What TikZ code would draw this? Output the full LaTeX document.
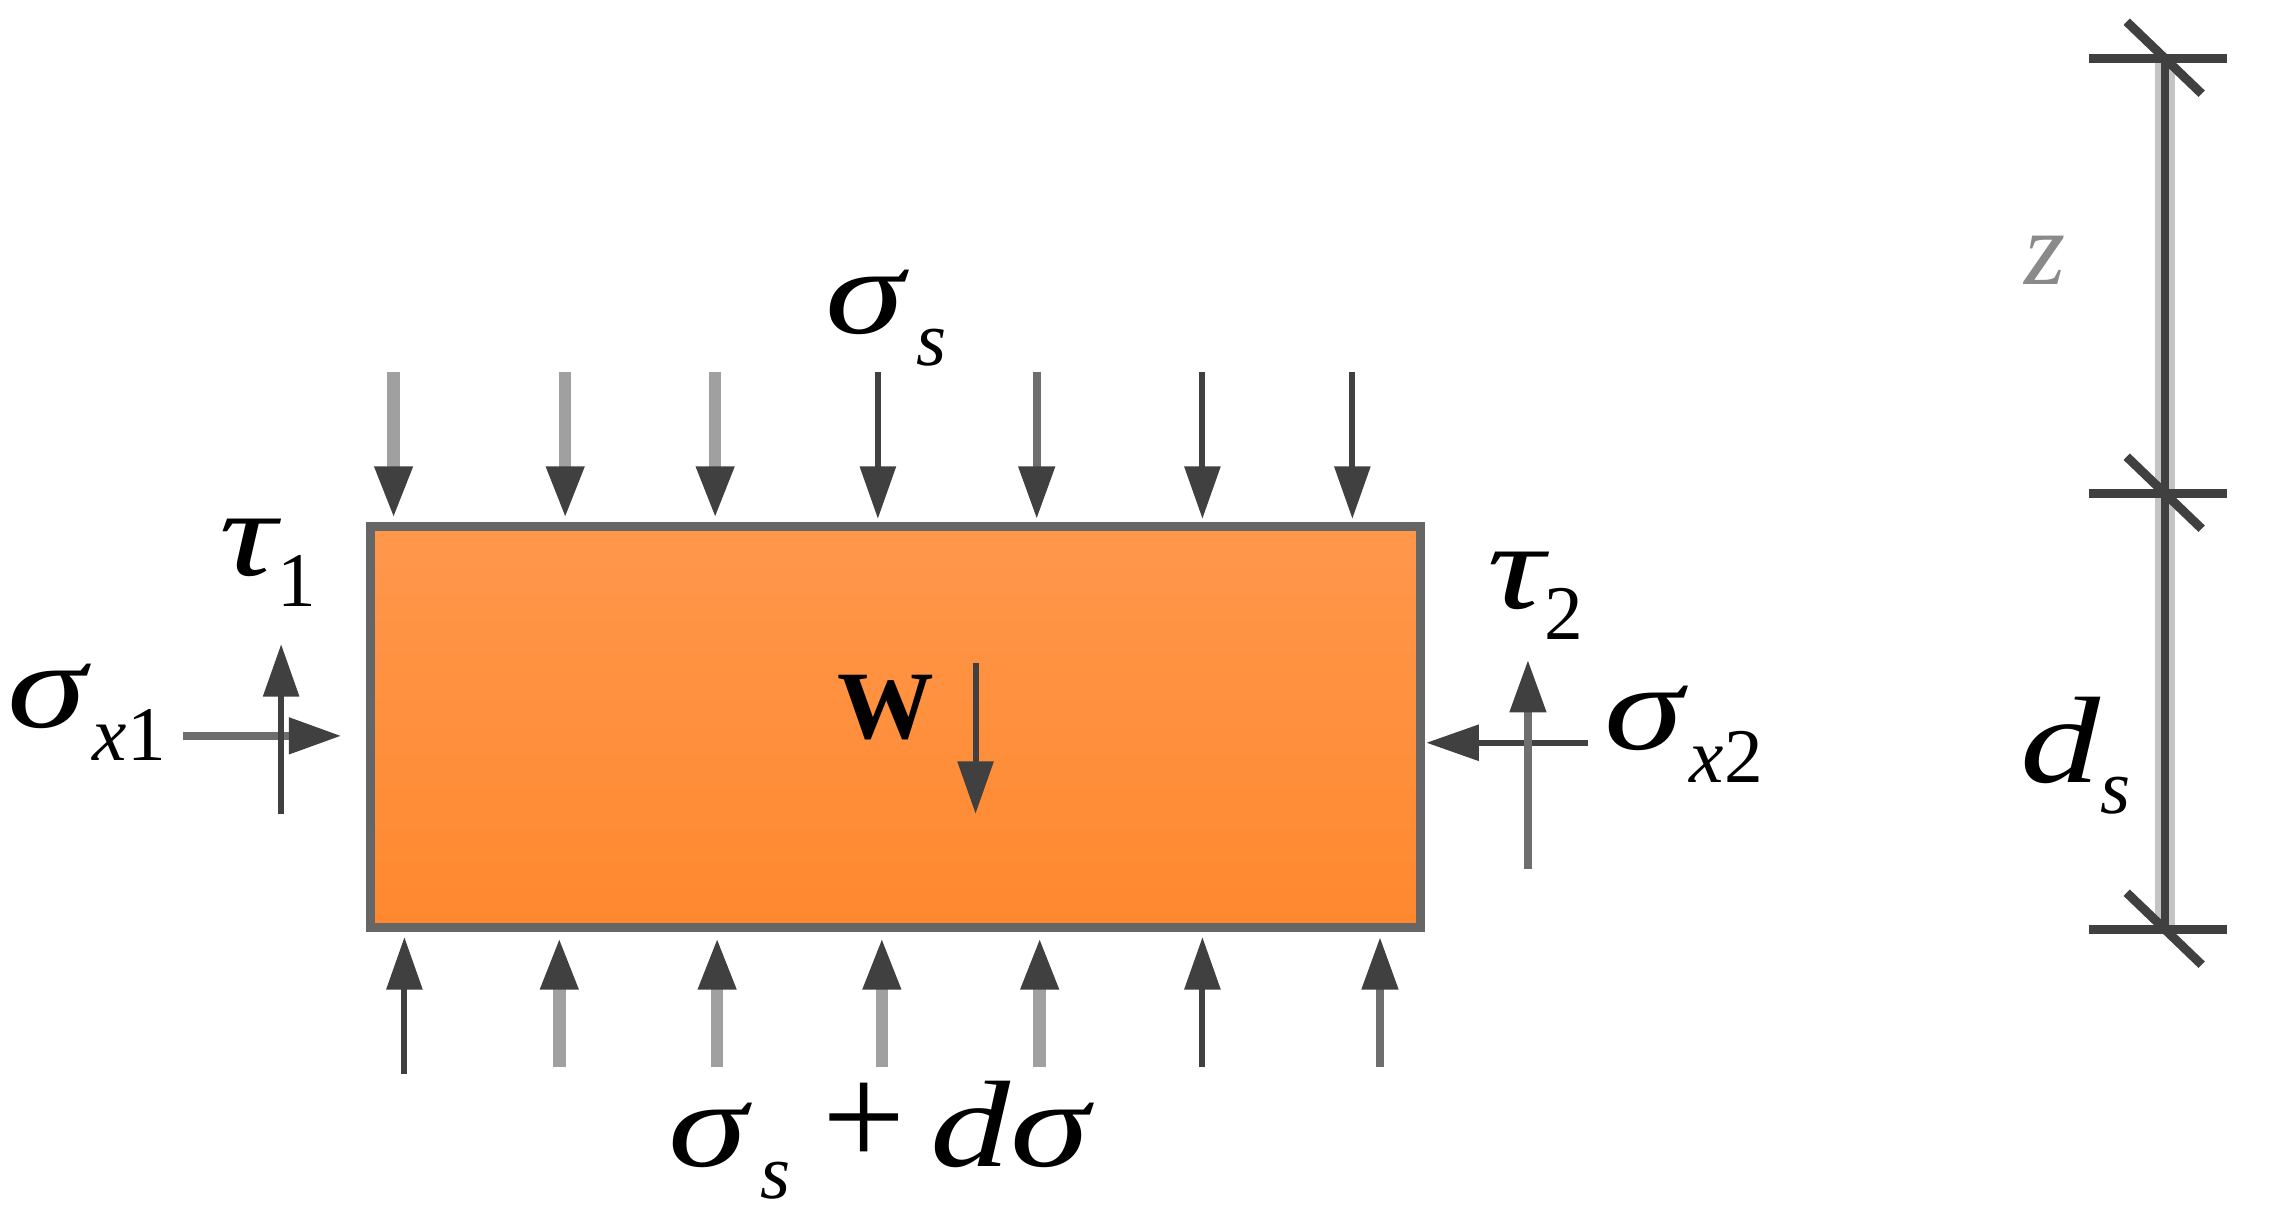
\documentclass[tikz,border=0pt]{standalone}
\usepackage{fontspec}
\usepackage{graphicx}
\setmainfont{Liberation Serif}
\usetikzlibrary{arrows.meta}
\newcommand{\bigsz}{\fontsize{70}{76}\selectfont}
\newcommand{\subsz}{\fontsize{44}{48}\selectfont}
\newcommand{\wide}[1]{\scalebox{1.3}[1]{\bigsz\itshape #1}}
\newcommand{\lbl}[4]{\wide{#1}\hspace{#2}\raisebox{#3}{\subsz #4}}
\definecolor{arrowdark}{HTML}{404040}
\definecolor{arrowmid}{HTML}{6E6E6E}
\definecolor{arrowsoft}{HTML}{A0A0A0}
\definecolor{halogray}{HTML}{C4C4C4}
\definecolor{boxedge}{HTML}{666666}
\definecolor{blocktop}{HTML}{FF974C}
\definecolor{blockbot}{HTML}{FF882E}
\definecolor{zgray}{HTML}{8A8A8A}
\tikzset{
  x=0.01973cm,y=-0.01973cm,
  txt/.style={anchor=base west,inner sep=0pt,outer sep=0pt,text=black},
  darkarrow/.style={draw=arrowdark,line width=0.12cm,-{Triangle[length=1.05cm,width=0.7cm,color=arrowdark]}},
  midarrow/.style={draw=arrowmid,line width=0.16cm,-{Triangle[length=1.05cm,width=0.7cm,color=arrowdark]}},
  softarrow/.style={draw=arrowsoft,line width=0.25cm,-{Triangle[length=1.05cm,width=0.7cm,color=arrowdark]}},
  dimhalo/.style={draw=halogray,line width=0.4cm},
  dimbar/.style={draw=arrowdark,line width=0.15cm},
  dimtick/.style={draw=arrowdark,line width=0.18cm},
  blockbox/.style={draw=boxedge,line width=0.18cm,top color=blocktop,bottom color=blockbot,minimum width=21cm,minimum height=8.02cm,inner sep=0pt}
}
\begin{document}
\begin{tikzpicture}
\useasboundingbox (0,0) rectangle (2301.3,1244.9);
\node[blockbox] (block) at (908,737) {};
% top arrows
\foreach \n/\xx/\st in {a/399/softarrow,b/573/softarrow,c/725/softarrow,d/890/darkarrow,e/1051/midarrow,f/1219/darkarrow,g/1371/darkarrow}{
  \coordinate (t\n s) at (\xx,377);
  \coordinate (t\n e) at (\xx,526);
  \draw[\st] (t\n s) -- (t\n e);
}
% bottom arrows
\foreach \n/\xx/\yy/\st in {a/410/1089/darkarrow,b/567/1082/softarrow,c/727/1082/softarrow,d/894/1082/softarrow,e/1054/1082/softarrow,f/1219/1082/darkarrow,g/1399/1082/midarrow}{
  \coordinate (b\n s) at (\xx,\yy);
  \coordinate (b\n e) at (\xx,950);
  \draw[\st] (b\n s) -- (b\n e);
}
% left and right pairs
\coordinate (ls) at (186,746); \coordinate (le) at (346,746);
\coordinate (lvs) at (285,825); \coordinate (lve) at (285,653);
\coordinate (rs) at (1610,753); \coordinate (re) at (1446,753);
\coordinate (rvs) at (1549,881); \coordinate (rve) at (1549,669);
\coordinate (ws) at (989,672); \coordinate (we) at (989,825);
\draw[midarrow] (ls) -- (le);
\draw[darkarrow] (lvs) -- (lve);
\draw[darkarrow] (rs) -- (re);
\draw[midarrow] (rvs) -- (rve);
\draw[darkarrow] (ws) -- (we);
% dimension
\coordinate (dt) at (2195,59);
\coordinate (dm) at (2195,500);
\coordinate (db) at (2195,942);
\draw[dimhalo] (dt) -- (dm);
\draw[dimhalo] (dm) -- (db);
\foreach \p/\yy in {dt/59,dm/500,db/942}{
  \coordinate (\p l) at (2118,\yy); \coordinate (\p r) at (2258,\yy);
  \coordinate (\p u) at (2156,\yy-37); \coordinate (\p v) at (2232,\yy+36);
  \draw[dimtick] (\p l) -- (\p r);
  \draw[dimtick] (\p u) -- (\p v);
}
\draw[dimbar] (dt) -- (dm);
\draw[dimbar] (dm) -- (db);
% labels
\node[txt] (sigs) at (837,338) {\lbl{σ}{0.25cm}{-0.64cm}{\itshape s}};
\node[txt] (tau1) at (223,583) {\lbl{τ}{0cm}{-0.62cm}{1}};
\node[txt] (sigx1) at (8,738) {\lbl{σ}{0.12cm}{-0.66cm}{\itshape x\upshape 1}};
\node[txt] (tau2) at (1508,617) {\lbl{τ}{0cm}{-0.62cm}{2}};
\node[txt] (sigx2) at (1627,760) {\lbl{σ}{0.12cm}{-0.66cm}{\itshape x\upshape 2}};
\node[txt,text=zgray] (zl) at (2052,288) {\fontsize{60}{64}\selectfont\itshape z};
\node[txt] (ds) at (2048,793) {\lbl{d}{0cm}{-0.62cm}{\itshape s}};
\node[txt] (wl) at (849,749) {\fontsize{55}{60}\selectfont\bfseries W};
\node[txt] (sigsum) at (678,1183) {\lbl{σ}{0.25cm}{-0.64cm}{\itshape s}\hspace{0.65cm}{\fontsize{84}{90}\selectfont +}\hspace{0.5cm}\wide{d}\wide{σ}};
\end{tikzpicture}
\end{document}
